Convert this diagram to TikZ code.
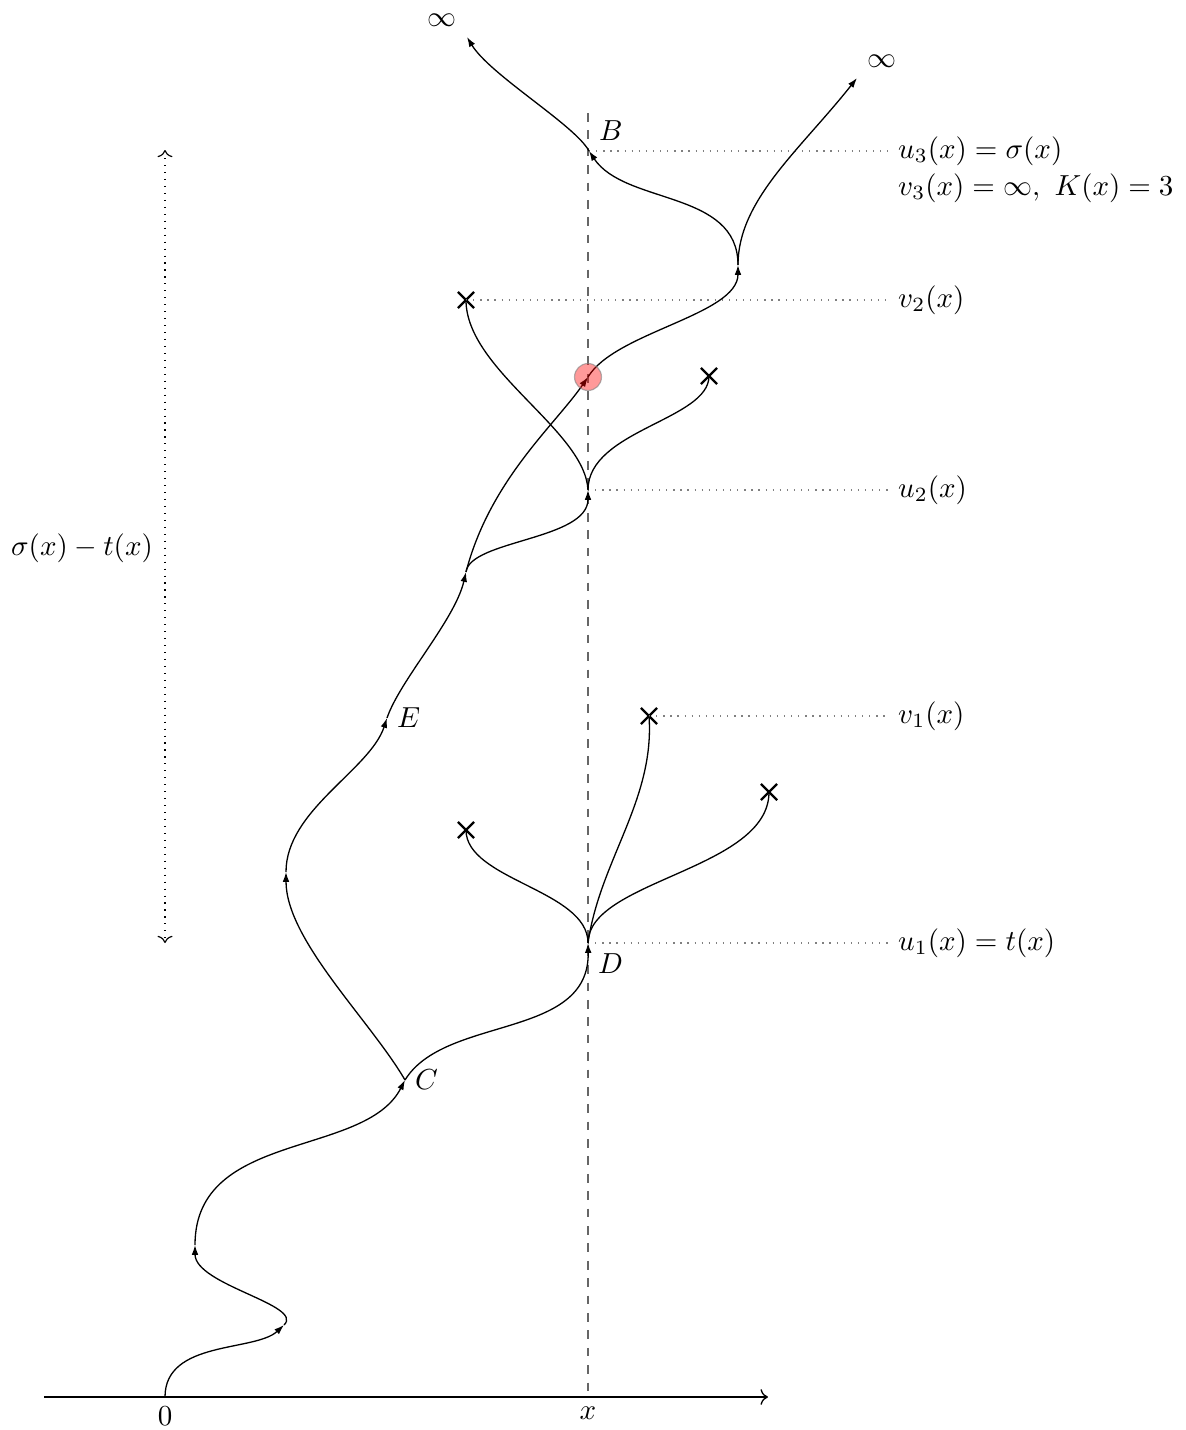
\documentclass[tikz,border=0pt]{standalone}
\usetikzlibrary{arrows.meta,shapes.misc}
\begin{document}
\begin{tikzpicture}[x=0.345pt,y=-0.345pt,
  traj/.style={line width=0.45pt,-{Latex[length=3.4pt,width=2.3pt]}},
  branch/.style={line width=0.45pt},
  xmark/.style={cross out,draw,line width=0.8pt,minimum size=4.8pt,inner sep=0pt},
  guide/.style={dotted,black!50,line width=0.45pt},
  vline/.style={dashed,black!60,line width=0.6pt},
  lbl/.style={anchor=west}]
\useasboundingbox (0,0) rectangle (1186,1430);

% key points
\coordinate (O) at (165,1397);
\coordinate (A1) at (284,1325);
\coordinate (A2) at (195,1245);
\coordinate (C) at (405,1080);
\coordinate (D) at (588,943);
\coordinate (F) at (286,872);
\coordinate (E) at (387,718);
\coordinate (G) at (466,572);
\coordinate (U2) at (588,490);
\coordinate (R) at (588,377);
\coordinate (H) at (738,265);
\coordinate (B) at (589,151);
\coordinate (I1) at (467,37);
\coordinate (I2) at (857,78);
\coordinate (Vtop) at (588,113);
\coordinate (Vbot) at (588,1397);
\coordinate (AxL) at (44,1397);
\coordinate (AxR) at (768,1397);
\coordinate (Stop) at (165,150);
\coordinate (Sbot) at (165,943);
\coordinate (Gu3) at (888,151);
\coordinate (Gv2) at (888,300);
\coordinate (Gu2) at (888,490);
\coordinate (Gv1) at (888,716);
\coordinate (Gu1) at (888,943);

% crosses
\node[xmark] (X1) at (466,830) {};
\node[xmark] (X2) at (649,716) {};
\node[xmark] (X3) at (466,300) {};
\node[xmark] (X4) at (709,376) {};
\node[xmark] (X5) at (769,792) {};

% axis and vertical dashed line
\draw[vline] (Vtop) -- (Vbot);
\draw[line width=0.45pt,->] (AxL) -- (AxR);
\node[below] (L0) at (O) {$0$};
\node[below] (Lx) at (Vbot) {$x$};

% guides
\draw[guide] (B) -- (Gu3);
\draw[guide] (X3.center) -- (Gv2);
\draw[guide] (U2) -- (Gu2);
\draw[guide] (X2.center) -- (Gv1);
\draw[guide] (D) -- (Gu1);
\node[lbl] (Tu3) at (Gu3) {$u_3(x)=\sigma(x)$};
\node[lbl] (Tv3) at (888,188) {$v_3(x)=\infty,\ K(x)=3$};
\node[lbl] (Tv2) at (Gv2) {$v_2(x)$};
\node[lbl] (Tu2) at (Gu2) {$u_2(x)$};
\node[lbl] (Tv1) at (Gv1) {$v_1(x)$};
\node[lbl] (Tu1) at (Gu1) {$u_1(x)=t(x)$};

% sigma - t
\draw[dotted,line width=0.4pt,<->] (Stop) -- (Sbot);
\node (Tst) at (82,548) {$\sigma(x)-t(x)$};

% trajectory
\draw[traj] (O) .. controls (165,1340) and (255,1352) .. (A1);
\draw[traj] (A1) .. controls (305,1305) and (195,1285) .. (A2);
\draw[traj] (A2) .. controls (195,1130) and (365,1158) .. (C);
\draw[traj] (C) .. controls (445,1015) and (590,1040) .. (D);
\draw[traj] (C) .. controls (370,1020) and (286,940) .. (F);
\draw[traj] (F) .. controls (286,810) and (370,770) .. (E);
\draw[traj] (E) .. controls (400,680) and (455,620) .. (G);
\draw[traj] (G) .. controls (470,540) and (588,540) .. (U2);
\draw[traj] (G) .. controls (490,480) and (555,425) .. (R);
\draw[traj] (R) .. controls (615,332) and (738,315) .. (H);
\draw[traj] (H) .. controls (738,190) and (625,205) .. (B);
\draw[traj] (B) .. controls (575,125) and (490,75) .. (I1);
\draw[traj] (H) .. controls (738,200) and (800,150) .. (I2);

% killed branches
\draw[branch] (D) .. controls (588,890) and (466,880) .. (X1.center);
\draw[branch] (D) .. controls (600,860) and (655,800) .. (X2.center);
\draw[branch] (D) .. controls (588,880) and (769,870) .. (X5.center);
\draw[branch] (U2) .. controls (585,430) and (466,370) .. (X3.center);
\draw[branch] (U2) .. controls (588,430) and (709,420) .. (X4.center);

% labels
\node[above right] (LB) at (B) {$B$};
\node[below right] (LD) at (D) {$D$};
\node[right] (LC) at (C) {$C$};
\node[right] (LE) at (E) {$E$};
\node[above left] (Linf1) at (I1) {$\infty$};
\node[above right] (Linf2) at (I2) {$\infty$};

% red marker
\node[circle,fill=red,fill opacity=0.4,draw=gray,draw opacity=0.6,minimum size=9.3pt,inner sep=0pt] (Rc) at (R) {};
\end{tikzpicture}
\end{document}
